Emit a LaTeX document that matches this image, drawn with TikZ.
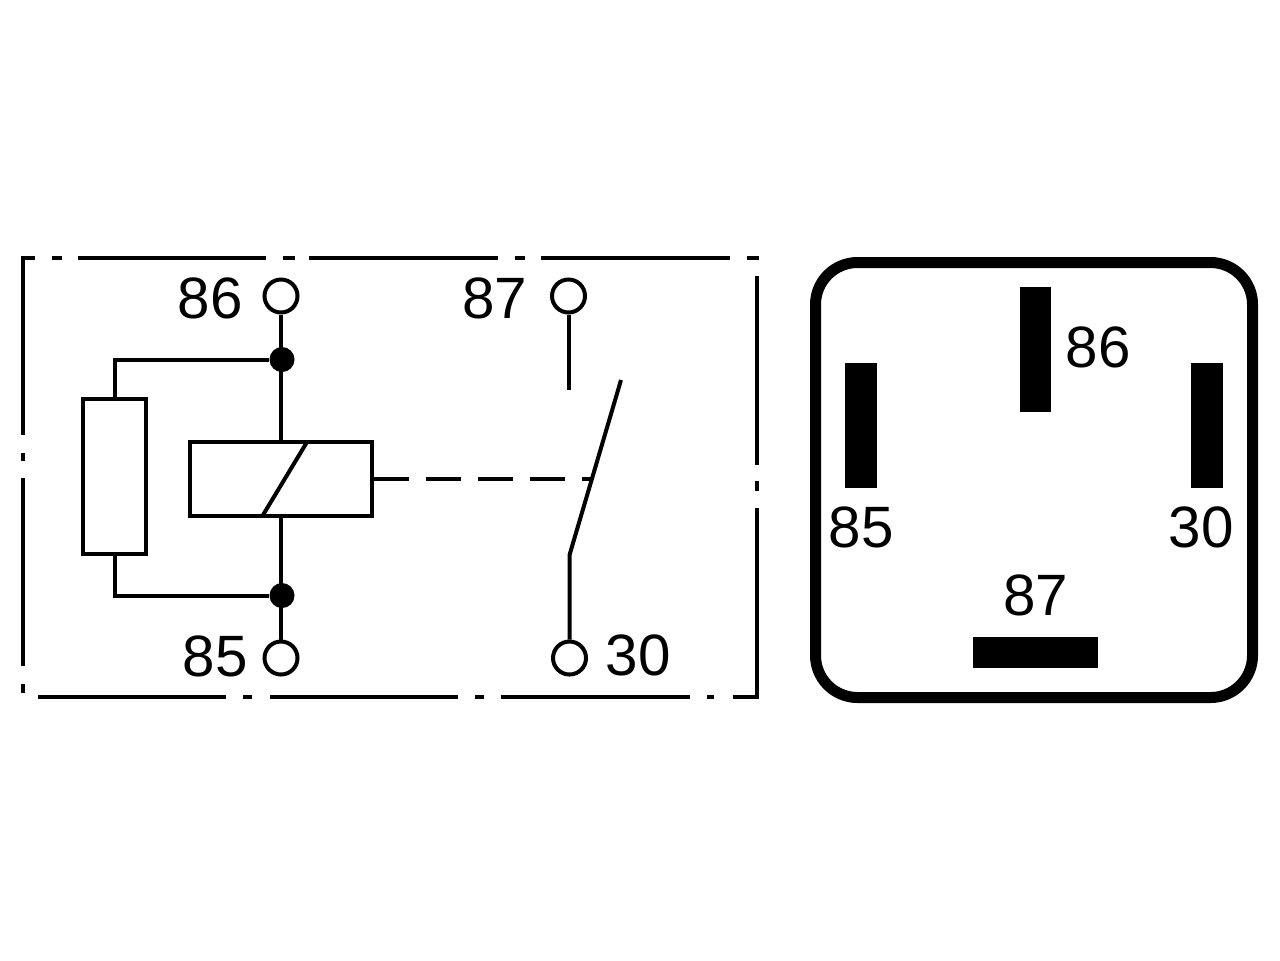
\documentclass[tikz,border=0pt]{standalone}
\usepackage{fontspec}
\setmainfont{Liberation Sans}
\usetikzlibrary{positioning}
\tikzset{
  wire/.style={line width=0.04cm, color=black},
  frameline/.style={line width=0.04cm, color=black},
  terminal/.style={circle, draw, line width=0.04cm, fill=white, minimum size=0.33cm, inner sep=0pt},
  junction/.style={circle, fill=black, minimum size=0.25cm, inner sep=0pt},
  pinv/.style={rectangle, fill=black, inner sep=0pt, minimum width=0.315cm, minimum height=1.25cm},
  pinh/.style={rectangle, fill=black, inner sep=0pt, minimum width=1.25cm, minimum height=0.315cm},
  pinlabel/.style={font=\fontsize{16.6pt}{18pt}\selectfont, inner sep=0pt}
}
\begin{document}
\begin{tikzpicture}
      \useasboundingbox (0,0) rectangle (12.8,9.6);

      % frame round the circuit
      \foreach \a/\b in {0.21/0.35, 0.52/0.62, 0.78/2.66, 2.83/2.95, 3.09/4.98, 5.15/5.25, 5.41/7.30, 7.47/7.59}
        \draw[frameline] (\a,7.02) -- (\b,7.02);
      \foreach \a/\b in {0.38/2.26, 2.43/2.52, 2.70/4.58, 4.75/4.84, 5.01/6.90, 7.07/7.14, 7.33/7.59}
        \draw[frameline] (\a,2.63) -- (\b,2.63);
      \foreach \a/\b in {7.04/5.25, 5.07/4.99, 4.82/2.94, 2.76/2.67}
        \draw[frameline] (0.23,\a) -- (0.23,\b);
      \foreach \a/\b in {6.84/4.95, 4.79/4.69, 4.52/2.61}
        \draw[frameline] (7.57,\a) -- (7.57,\b);

      % terminals
      \node[terminal] (t86) at (2.81,6.64) {};
      \node[terminal] (t85) at (2.81,3.02) {};
      \node[terminal] (t87) at (5.685,6.64) {};
      \node[terminal] (t30) at (5.695,3.02) {};
      \node[pinlabel, left=0.19cm of t86, yshift=-0.02cm] (l86) {86};
      \node[pinlabel, left=0.14cm of t85, yshift=0.02cm] (l85) {85};
      \node[pinlabel, left=0.22cm of t87, yshift=-0.02cm] (l87) {87};
      \node[pinlabel, right=0.17cm of t30, yshift=0.03cm] (l30) {30};

      % coil and resistor
      \node[junction] (j86) at (2.82,6.005) {};
      \node[junction] (j85) at (2.82,3.645) {};
      \node[draw, wire, minimum width=1.82cm, minimum height=0.74cm, inner sep=0pt] (coil) at (2.81,4.81) {};
      \node[draw, wire, minimum width=0.63cm, minimum height=1.55cm, inner sep=0pt] (res) at (1.145,4.835) {};
      \draw[wire] (t86) -- (coil.north -| t86);
      \draw[wire] (coil.south -| t85) -- (t85);
      \draw[wire] (res.north) |- (j86);
      \draw[wire] (res.south) |- (j85);
      \coordinate (slantb) at (2.63,4.45);
      \coordinate (slantt) at (3.07,5.18);
      \draw[wire] (slantb) -- (slantt);

      % contact
      \coordinate (open87) at (5.685,5.70);
      \coordinate (hinge) at (5.695,4.05);
      \coordinate (blade) at (6.21,5.80);
      \coordinate (link) at (5.92,4.81);
      \draw[wire] (t87) -- (open87);
      \draw[wire] (t30) -- (hinge) -- (blade);
      \draw[wire, dash pattern=on 0.35cm off 0.17cm] (coil.east) -- (link);

      % pin view
      \draw[line width=0.11cm, rounded corners=0.42cm] (8.155,2.625) rectangle (12.525,6.975);
      \node[pinv] (p86) at (10.355,6.105) {};
      \node[pinv] (p85) at (8.61,5.345) {};
      \node[pinv] (p30) at (12.07,5.345) {};
      \node[pinh] (p87) at (10.355,3.075) {};
      \node[pinlabel, right=0.13cm of p86, yshift=0.02cm] (m86) {86};
      \node[pinlabel, below=0.17cm of p85] (m85) {85};
      \node[pinlabel, below=0.17cm of p30, xshift=-0.06cm] (m30) {30};
      \node[pinlabel, above=0.19cm of p87] (m87) {87};
\end{tikzpicture}
\end{document}
